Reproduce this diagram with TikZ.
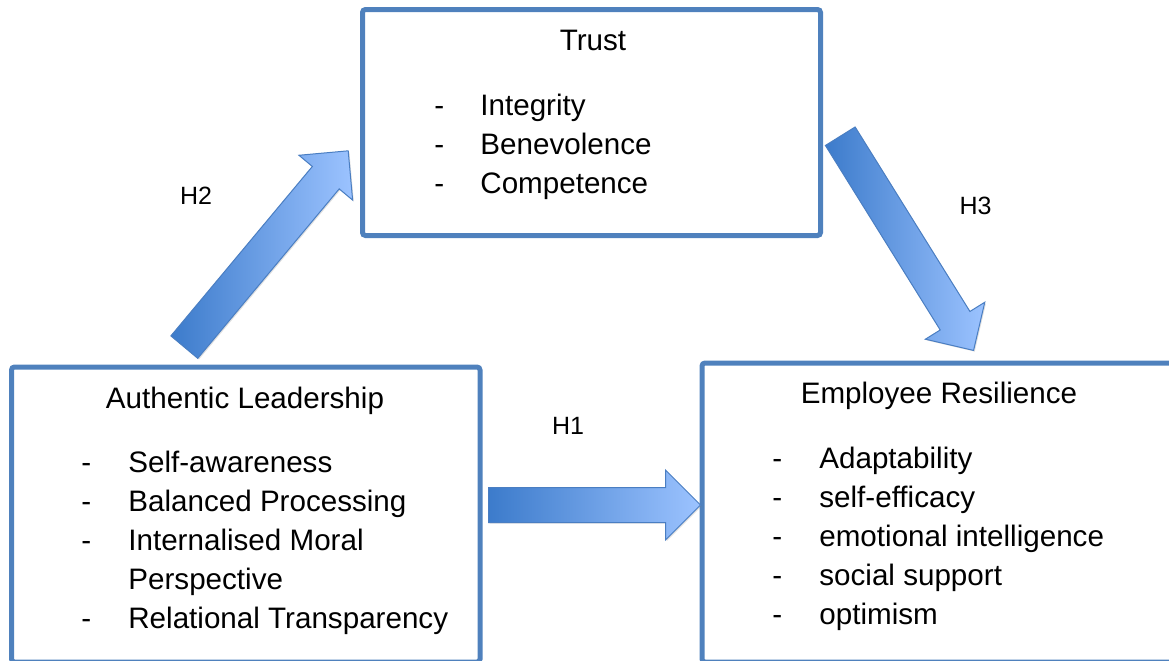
\documentclass[tikz,border=0pt]{standalone}
\usepackage{fontspec}
\setmainfont{Liberation Sans}
\usetikzlibrary{fit,positioning,calc}
\usetikzlibrary{shapes.arrows,shadows}
\definecolor{boxblue}{HTML}{4F81BD}
\definecolor{arrowdark}{HTML}{3C7BCB}
\definecolor{arrowlight}{HTML}{9CC3FF}
\definecolor{arrowedge}{HTML}{4A7EC2}
\tikzset{
	model box/.style={
		draw=boxblue, line width=2.5pt,
		rounded corners=1.5pt, inner sep=0pt
	},
	model title/.style={
		inner sep=0pt, anchor=base,
		font=\fontsize{14.8}{19.5}\selectfont
	},
	model items/.style={
		inner sep=0pt, anchor=base west,
		font=\fontsize{14.8}{19.5}\selectfont
	},
	hyp label/.style={
		inner sep=0pt, anchor=base,
		font=\fontsize{12.5}{15}\selectfont
	},
	block arrow/.style={
		single arrow, draw=arrowedge, line width=0.5pt,
		left color=arrowdark, right color=arrowlight,
		inner xsep=0pt, inner ysep=8.5pt,
		single arrow head extend=8.75pt, anchor=tail,
		drop shadow={opacity=0.25, shadow xshift=0.6pt, shadow yshift=-0.6pt}
	}
}

\begin{document}
\begin{tikzpicture}[x=0.5pt, y=-0.5pt]
	\useasboundingbox (0,0) rectangle (1169,660);
	\clip (0,0) rectangle (1169,660);
	
	% the three constructs
	\node[model box, fit={(362.5,9.5) (820.5,235.5)}] (trust) {};
	\node[model box, fit={(11.5,367) (480,662)}] (leader) {};
	\node[model box, fit={(702,363) (1176,662)}] (resil) {};
	
	\node[model title] (trust title) at (593,50) {Trust};
	\node[model items] (trust items) at (434,115) {%
		\begin{tabular}[t]{@{}p{23pt}@{}l@{}}
			- & Integrity\\
			- & Benevolence\\
			- & Competence
		\end{tabular}};
	
	\node[model title] (leader title) at (245,408) {Authentic Leadership};
	\node[model items] (leader items) at (81,472) {%
		\begin{tabular}[t]{@{}p{23.5pt}@{}l@{}}
			- & Self-awareness\\
			- & Balanced Processing\\
			- & Internalised Moral\\
			& Perspective\\
			- & Relational Transparency
		\end{tabular}};
	
	\node[model title] (resil title) at (939,403) {Employee Resilience};
	\node[model items] (resil items) at (772,468) {%
		\begin{tabular}[t]{@{}p{23.5pt}@{}l@{}}
			- & Adaptability\\
			- & self-efficacy\\
			- & emotional intelligence\\
			- & social support\\
			- & optimism
		\end{tabular}};
	
	% ends of the hypothesis arrows
	\coordinate (h1 tail) at (488,505);
	\coordinate (h1 tip) at (700,505);
	\coordinate (h2 tail) at (184,347.5);
	\coordinate (h2 tip) at (348.3,150.7);
	\coordinate (h3 tail) at (840,135.8);
	\coordinate (h3 tip) at (973.3,350);
	
	\foreach \h in {1,2,3} {
		\path let \p1=($(h\h\space tip)-(h\h\space tail)$),
			\n1={atan2(\y1,\x1)}, \n2={veclen(\x1,\y1)} in
			node[block arrow, minimum height=\n2, rotate=\n1] (arrow \h)
			at (h\h\space tail) {};
	}
	
	\node[hyp label] (h1 label) at (568,434) {H1};
	\node[hyp label] (h2 label) at (196,204) {H2};
	\node[hyp label] (h3 label) at (975.5,214) {H3};
\end{tikzpicture}
\end{document}
